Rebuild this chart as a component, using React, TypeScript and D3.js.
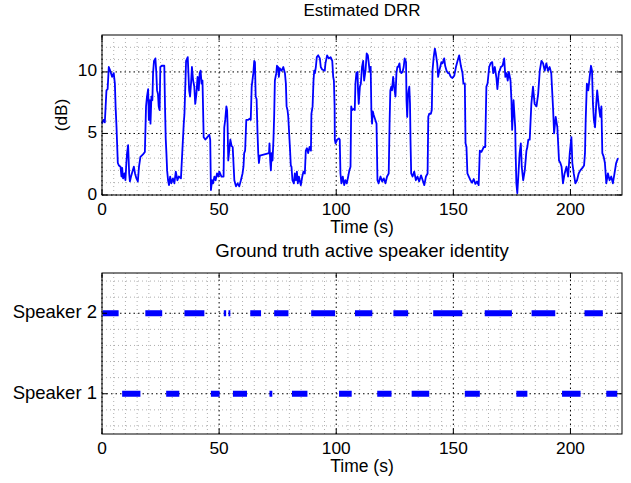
import React, { useEffect, useRef } from 'react';
import * as d3 from 'd3';

// estimated DRR trace (time in s, value in dB)
const drrTime = [
  0, 0.6, 1.2, 1.9, 2.4, 2.9, 3.5, 4.3, 5.0, 5.5, 5.8, 6.2, 6.5, 6.75, 7.2, 7.9, 8.3, 8.6, 9.0, 9.6,
  10.0, 10.4, 10.7, 11.15, 11.6, 11.9, 12.4, 13.0, 13.6, 14.1, 14.7, 15.3, 15.8, 16.4, 17.5, 18.3, 18.8, 19.2, 19.7, 20.0,
  20.4, 20.7, 21.1, 21.5, 21.8, 22.2, 22.8, 23.2, 23.5, 23.9, 24.2, 24.6, 24.9, 25.5, 26.1, 26.6, 26.9, 27.2, 27.5, 27.8,
  28.2, 28.6, 29.1, 29.6, 30.3, 30.9, 31.5, 32.2, 32.8, 33.7, 34.9, 35.2, 35.9, 36.6, 36.9, 37.2, 37.6, 38.0, 38.4, 38.9,
  39.4, 39.8, 40.3, 40.8, 41.3, 41.7, 42.1, 42.5, 42.9, 43.4, 44.1, 45.8, 46.2, 46.5, 47.0, 47.4, 48.0, 48.5, 49.1, 49.7,
  50.1, 51.0, 51.9, 52.2, 52.6, 53.1, 53.4, 53.6, 53.9, 54.3, 54.8, 55.3, 55.8, 56.5, 57.2, 57.9, 58.6, 59.3, 60.0, 60.4,
  60.7, 61.1, 61.6, 62.4, 63.0, 63.5, 63.9, 64.6, 65.0, 65.3, 65.6, 66.0, 66.4, 66.7, 67.0, 67.4, 71.3, 71.5, 71.8, 72.1,
  72.4, 72.8, 73.2, 73.5, 73.8, 74.4, 74.7, 75.2, 75.5, 75.9, 76.7, 77.4, 78.1, 78.5, 78.8, 79.2, 79.5, 79.9, 80.3, 80.6,
  80.9, 81.3, 81.9, 82.3, 82.8, 83.2, 83.6, 84.05, 84.5, 84.9, 85.5, 86.0, 86.6, 87.0, 87.5, 88.0, 88.6, 89.2, 89.4, 89.9,
  90.3, 90.6, 90.9, 91.3, 91.7, 92.3, 93.0, 93.4, 94.0, 95.1, 95.4, 96.1, 96.8, 97.6, 98.3, 98.7, 99.0, 99.3, 99.4, 99.7,
  100.4, 101.1, 101.5, 101.8, 102.2, 102.8, 103.4, 103.9, 104.5, 105.1, 105.6, 106.1, 106.4, 106.8, 107.5, 107.9, 108.2, 108.6, 109.1, 109.3,
  109.6, 110.1, 110.5, 111.0, 111.5, 111.9, 112.5, 113.0, 113.5, 113.9, 114.3, 114.7, 115.0, 115.3, 115.6, 116.0, 116.7, 117.2, 117.6, 118.1,
  118.9, 119.6, 120.3, 121.0, 121.7, 122.4, 122.8, 123.1, 123.5, 123.8, 124.3, 124.7, 125.3, 125.7, 126.1, 126.4, 127.0, 127.3, 127.8, 128.3,
  128.8, 129.2, 129.8, 130.0, 130.3, 130.6, 130.9, 131.2, 131.5, 131.7, 132.0, 132.6, 133.3, 134.0, 134.7, 135.4, 136.2, 136.9, 137.6, 138.3,
  139.0, 139.3, 139.7, 140.4, 140.8, 141.1, 141.6, 142.1, 142.5, 143.1, 143.5, 144.0, 144.4, 144.9, 145.4, 146.1, 146.5, 147.1, 147.7, 148.2,
  148.9, 149.6, 150.4, 151.1, 151.8, 152.5, 153.2, 153.9, 154.3, 154.9, 155.2, 155.6, 156.0, 156.6, 157.3, 158.0, 158.7, 159.4, 160.1, 160.8,
  161.3, 162.0, 163.0, 163.6, 164.1, 164.6, 165.3, 165.9, 166.6, 167.0, 167.7, 168.4, 168.8, 169.4, 170.3, 171.0, 171.7, 172.2, 172.7, 173.2,
  173.7, 174.4, 174.8, 175.1, 175.7, 176.4, 176.6, 176.9, 177.3, 177.8, 178.3, 178.8, 179.2, 179.8, 180.5, 181.2, 181.6, 182.0, 182.6, 183.3,
  184.0, 184.7, 185.5, 186.2, 186.9, 187.6, 188.3, 189.0, 189.7, 190.4, 191.1, 191.8, 192.6, 193.0, 193.7, 194.4, 195.1, 195.7, 196.2, 196.8,
  197.5, 198.3, 199.0, 199.7, 200.4, 200.8, 201.4, 202.1, 202.8, 203.5, 204.2, 205.1, 205.8, 206.2, 206.5, 207.0, 207.6, 208.2, 208.75, 209.2,
  209.6, 210.0, 210.5, 211.0, 211.4, 212.1, 212.7, 213.2, 213.6, 214.2, 214.7, 215.3, 216.0, 216.7, 217.4, 218.1, 218.8, 219.5, 220.3
];
const drrValue = [
  5.8, 6.1, 5.9, 8.5, 8.6, 10.4, 10.1, 9.6, 9.9, 9.05, 7.2, 5.5, 3.9, 2.6, 2.4, 2.3, 1.5, 2.2, 1.35, 1.75,
  1.2, 2.6, 3.4, 4.05, 1.75, 1.1, 1.5, 1.9, 2.3, 1.75, 1.35, 1.1, 2.3, 3.1, 3.3, 3.5, 7.2, 8.0, 8.6, 6.1,
  7.7, 5.8, 8.0, 7.7, 9.9, 10.9, 11.1, 9.9, 8.5, 8.2, 7.2, 6.9, 10.4, 10.5, 10.5, 10.5, 7.2, 4.6, 3.4, 2.0,
  1.2, 0.8, 1.5, 0.95, 1.35, 0.95, 1.9, 1.2, 1.5, 1.35, 5.8, 6.6, 10.9, 11.2, 9.9, 8.5, 8.0, 9.05, 10.4, 9.3,
  8.8, 7.4, 8.2, 9.6, 8.5, 9.9, 10.1, 9.05, 9.3, 4.7, 4.5, 4.9, 4.5, 0.4, 1.2, 0.95, 1.5, 1.2, 1.75, 1.5,
  1.9, 1.5, 1.5, 5.5, 6.1, 7.2, 6.9, 5.8, 2.8, 3.6, 4.5, 4.0, 3.9, 1.2, 0.7, 0.95, 0.7, 1.2, 1.75, 2.3,
  3.4, 3.6, 6.1, 6.1, 6.2, 6.1, 8.8, 9.9, 10.9, 10.8, 8.0, 7.8, 5.0, 3.4, 2.6, 3.2, 3.4, 4.2, 2.8, 2.0,
  3.4, 2.8, 4.5, 6.4, 9.3, 9.9, 10.5, 10.4, 9.6, 10.3, 10.1, 10.4, 9.9, 9.05, 7.2, 6.9, 6.4, 5.0, 3.6, 2.4,
  2.3, 1.2, 0.95, 1.75, 1.2, 1.9, 0.95, 1.5, 1.1, 0.8, 1.5, 1.9, 1.75, 3.6, 3.8, 3.4, 3.9, 3.6, 6.6, 7.2,
  9.3, 10.1, 9.9, 10.4, 11.2, 11.35, 11.1, 10.4, 10.2, 10.1, 10.7, 11.35, 11.1, 11.2, 10.9, 9.6, 9.3, 7.2, 4.5, 4.2,
  4.5, 4.6, 4.5, 1.75, 0.95, 1.5, 0.8, 1.2, 0.95, 1.5, 2.0, 2.3, 7.2, 6.9, 7.0, 6.9, 9.05, 9.9, 10.0, 8.5,
  7.4, 8.8, 9.05, 10.4, 10.9, 9.3, 10.1, 11.5, 11.35, 10.7, 10.0, 10.4, 6.9, 5.8, 6.8, 6.5, 6.1, 5.8, 1.2, 0.95,
  1.5, 1.1, 1.35, 0.95, 1.5, 1.75, 6.1, 8.5, 8.8, 8.5, 9.6, 8.8, 8.0, 9.9, 10.4, 10.4, 10.7, 10.1, 9.9, 10.0,
  10.4, 11.1, 10.8, 7.7, 6.35, 8.0, 8.5, 8.8, 7.4, 4.5, 1.75, 1.5, 1.9, 1.2, 1.5, 1.1, 1.6, 1.2, 0.8, 1.5,
  1.75, 6.35, 6.6, 6.6, 6.9, 10.1, 11.2, 11.9, 11.5, 10.7, 9.6, 10.1, 10.4, 10.8, 10.7, 11.1, 10.5, 10.1, 9.9, 9.9,
  9.6, 9.5, 9.7, 10.4, 10.9, 11.35, 10.5, 9.9, 9.05, 9.05, 4.2, 3.9, 1.75, 1.5, 1.2, 1.0, 1.3, 0.9, 1.1, 0.8,
  3.6, 3.5, 3.9, 3.9, 8.8, 9.05, 10.4, 10.7, 10.8, 9.9, 10.4, 9.5, 8.6, 9.9, 10.4, 10.5, 11.1, 9.6, 9.9, 9.3,
  10.0, 9.3, 7.7, 5.3, 7.7, 5.5, 3.4, 0.95, 0.14, 1.75, 3.4, 4.2, 2.3, 1.2, 2.0, 3.6, 3.9, 4.5, 4.5, 7.4,
  8.8, 7.4, 7.2, 8.2, 10.1, 10.9, 10.7, 10.1, 10.7, 10.1, 10.4, 9.9, 6.9, 5.0, 6.35, 5.5, 2.8, 2.6, 2.3, 0.95,
  1.75, 2.3, 1.5, 3.4, 4.7, 2.6, 1.75, 0.95, 1.2, 1.75, 2.0, 2.2, 2.4, 3.4, 6.1, 9.05, 8.5, 9.6, 10.5, 10.1,
  7.4, 6.1, 5.5, 7.4, 8.5, 7.2, 6.35, 7.2, 3.4, 3.1, 2.6, 0.95, 1.75, 1.2, 1.5, 0.95, 1.75, 2.6, 3.0
];

// ground truth activity, [start, end] in seconds
const speaker1Segments: [number, number][] = [
  [8.6, 16.4], [27.4, 33.0], [46.5, 50.2], [55.9, 61.9], [71.5, 72.7], [81.1, 87.7],
  [101.2, 106.6], [117.5, 123.6], [132.2, 139.7], [154.9, 161.3], [176.9, 181.6], [196.4, 204.3], [215.3, 220.0]
];
const speaker2Segments: [number, number][] = [
  [0.3, 7.1], [18.5, 25.7], [35.2, 43.7], [52.0, 53.0], [54.0, 54.8], [63.3, 67.9], [73.5, 79.6],
  [89.3, 99.5], [108.0, 115.4], [124.4, 130.7], [141.4, 153.8], [163.4, 175.0], [183.4, 193.5], [206.0, 213.8]
];

const xTicks = [0, 50, 100, 150, 200];
const dbTicks = [0, 5, 10];
const speakerTicks = [1, 2];
const speakerNames = ['Speaker 1', 'Speaker 2'];

const W = 631, H = 483;
const FONT = '"Liberation Sans", Arial, Helvetica, sans-serif';
const BLUE = '#0000ff';

function drawFrame(g: any, x: any, y: any, opts: any) {
  const [x0, x1] = x.range();
  const [y0, y1] = y.range(); // y0 bottom, y1 top

  // minor grid
  opts.xMinor.forEach((v: number) => {
    g.append('line').attr('x1', x(v)).attr('x2', x(v)).attr('y1', y0).attr('y2', y1)
      .attr('stroke', '#999').attr('stroke-width', 0.8).attr('stroke-dasharray', '1,3');
  });
  opts.yMinor.forEach((v: number) => {
    g.append('line').attr('x1', x0).attr('x2', x1).attr('y1', y(v)).attr('y2', y(v))
      .attr('stroke', '#999').attr('stroke-width', 0.8).attr('stroke-dasharray', '1,3');
  });
  // major grid
  opts.xTicks.forEach((v: number) => {
    g.append('line').attr('x1', x(v)).attr('x2', x(v)).attr('y1', y0).attr('y2', y1)
      .attr('stroke', '#000').attr('stroke-width', 1).attr('stroke-dasharray', '1.5,3');
  });
  opts.yTicks.forEach((v: number) => {
    g.append('line').attr('x1', x0).attr('x2', x1).attr('y1', y(v)).attr('y2', y(v))
      .attr('stroke', '#000').attr('stroke-width', 1).attr('stroke-dasharray', '1.5,3');
  });
}

function drawBox(g: any, x: any, y: any, opts: any) {
  const [x0, x1] = x.range();
  const [y0, y1] = y.range();
  const tl = 5;
  opts.xTicks.forEach((v: number) => {
    g.append('line').attr('x1', x(v)).attr('x2', x(v)).attr('y1', y0).attr('y2', y0 - tl).attr('stroke', '#000');
    g.append('line').attr('x1', x(v)).attr('x2', x(v)).attr('y1', y1).attr('y2', y1 + tl).attr('stroke', '#000');
    g.append('text').attr('x', x(v)).attr('y', y0 + 15).attr('text-anchor', 'middle')
      .attr('font-family', FONT).attr('font-size', 17.3).attr('dominant-baseline', 'middle').text(String(v));
  });
  opts.yTicks.forEach((v: number, i: number) => {
    g.append('line').attr('x1', x0).attr('x2', x0 + tl).attr('y1', y(v)).attr('y2', y(v)).attr('stroke', '#000');
    g.append('line').attr('x1', x1).attr('x2', x1 - tl).attr('y1', y(v)).attr('y2', y(v)).attr('stroke', '#000');
    g.append('text').attr('x', x0 - 5).attr('y', y(v)).attr('text-anchor', 'end')
      .attr('font-family', FONT).attr('font-size', opts.yLabelSize).attr('dominant-baseline', 'middle')
      .text(opts.yLabels ? opts.yLabels[i] : String(v));
  });
  g.append('rect').attr('x', x0).attr('y', y1).attr('width', x1 - x0).attr('height', y0 - y1)
    .attr('fill', 'none').attr('stroke', '#000').attr('stroke-width', 1);

  const cx = (x0 + x1) / 2;
  g.append('text').attr('x', cx).attr('y', y1 - opts.titleOffset).attr('text-anchor', 'middle')
    .attr('font-family', FONT).attr('font-size', opts.titleSize).attr('dominant-baseline', 'middle').text(opts.title);
  g.append('text').attr('x', cx).attr('y', y0 + 33).attr('text-anchor', 'middle')
    .attr('font-family', FONT).attr('font-size', 17.5).attr('dominant-baseline', 'middle').text('Time (s)');
}

export default function App() {
  const ref = useRef<SVGSVGElement | null>(null);

  useEffect(() => {
    const svg = d3.select(ref.current);
    svg.selectAll('*').remove();
    svg.append('rect').attr('width', W).attr('height', H).attr('fill', '#fff');

    const xTop = d3.scaleLinear().domain([0, 222]).range([102, 622]);
    const yTop = d3.scaleLinear().domain([0, 13]).range([195, 35]);
    const xBot = d3.scaleLinear().domain([0, 222]).range([102, 622]);
    const yBot = d3.scaleLinear().domain([0.5, 2.5]).range([434, 273]);

    const minorX = d3.range(5, 222, 5).filter((v) => v % 50 !== 0);
    const minorDb = d3.range(1, 13, 1).filter((v) => v % 5 !== 0);
    const minorSpk = [0.6, 0.8, 1.2, 1.4, 1.6, 1.8, 2.2, 2.4];

    // top: estimated DRR
    const top = svg.append('g');
    drawFrame(top, xTop, yTop, { xMinor: minorX, yMinor: minorDb, xTicks, yTicks: dbTicks });
    const line = d3.line<number>()
      .x((_, i) => xTop(drrTime[i]))
      .y((d) => yTop(d));
    top.append('path').datum(drrValue).attr('d', line as any)
      .attr('fill', 'none').attr('stroke', BLUE).attr('stroke-width', 1.8).attr('stroke-linejoin', 'round');
    drawBox(top, xTop, yTop, {
      xTicks, yTicks: dbTicks, yLabelSize: 17.3,
      title: 'Estimated DRR', titleSize: 17, titleOffset: 23,
    });
    top.append('text')
      .attr('transform', `translate(62,${yTop(6.5)}) rotate(-90)`)
      .attr('text-anchor', 'middle').attr('dominant-baseline', 'middle')
      .attr('font-family', FONT).attr('font-size', 17.3).text('(dB)');

    // bottom: ground truth speaker
    const bot = svg.append('g');
    drawFrame(bot, xBot, yBot, { xMinor: minorX, yMinor: minorSpk, xTicks, yTicks: speakerTicks });
    const segs = [
      ...speaker1Segments.map((s) => ({ s, spk: 1 })),
      ...speaker2Segments.map((s) => ({ s, spk: 2 })),
    ];
    bot.selectAll('rect.seg').data(segs).enter().append('rect')
      .attr('class', 'seg')
      .attr('x', (d) => xBot(d.s[0]))
      .attr('width', (d) => xBot(d.s[1]) - xBot(d.s[0]))
      .attr('y', (d) => yBot(d.spk) - 3)
      .attr('height', 6)
      .attr('fill', BLUE);
    drawBox(bot, xBot, yBot, {
      xTicks, yTicks: speakerTicks, yLabels: speakerNames, yLabelSize: 18.5,
      title: 'Ground truth active speaker identity', titleSize: 18.6, titleOffset: 21,
    });
  }, []);

  return (
    <svg ref={ref} width={W} height={H}
      style={{ position: 'absolute', left: 0, top: 0, display: 'block' }} />
  );
}
